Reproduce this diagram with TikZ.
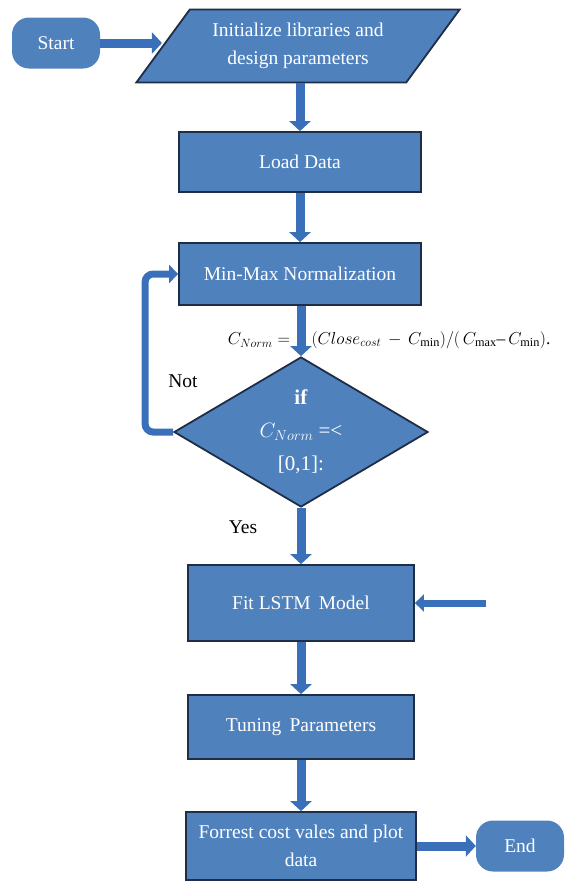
\documentclass[tikz,border=0pt]{standalone}
\usepackage{fontspec}
\setmainfont{Liberation Serif}
\usetikzlibrary{arrows.meta,positioning,calc,shapes.geometric}
\definecolor{BoxBlue}  {RGB}{79,129,189}
\definecolor{EdgeDark} {RGB}{31,45,70}
\definecolor{ArrowBlue}{RGB}{58,112,185}

\begin{document}
\begin{tikzpicture}[x=1pt,y=-1pt,
  txt/.style={font=\fontsize{19.5}{28}\selectfont},
  box/.style={txt,draw=EdgeDark,line width=1.8pt,fill=BoxBlue,text=white,
              align=center,inner sep=2pt},
  term/.style={txt,fill=BoxBlue,text=white,rounded corners=17pt,
               minimum width=88pt,minimum height=51pt},
  para/.style={box,trapezium,trapezium left angle=49,trapezium right angle=131,
               trapezium stretches=true,minimum width=324pt,minimum height=73pt},
  dec/.style={box,diamond,inner sep=0pt,shape aspect=1.7,
              minimum width=254pt,minimum height=150pt,
              font=\fontsize{21}{33}\selectfont},
  flow/.style={draw=ArrowBlue,line width=9pt,-{Triangle[length=10pt,width=21pt]}},
  flowthin/.style={draw=ArrowBlue,line width=7pt,-{Triangle[length=9pt,width=17pt]}},
  loopline/.style={draw=ArrowBlue,line width=7pt,rounded corners=8pt,
                   -{Triangle[length=9pt,width=18pt]}}]
  \useasboundingbox (0,0) rectangle (579,884);
  %% terminals and process boxes
  \node[term] (start) at (56,43) {Start};
  \node[para] (init) at (298,46) {Initialize libraries and\\design parameters};
  \node[box,minimum width=242pt,minimum height=60pt] (load) at (300,162) {Load Data};
  \node[box,minimum width=242pt,minimum height=62pt] (norm) at (300,274) {Min-Max Normalization};
  %% normalization formula
  \node[font=\fontsize{17.5}{20}\selectfont] (fleft) at (259,340) {$C_{Norm} =$};
  \node[font=\fontsize{17.5}{20}\selectfont,anchor=west] (fright) at (308,340)
       {$(Close_{cost}\,-\,C_{\min})/(\,C_{\max}$--$\,C_{\min})$.};
  %% decision
  \node[dec] (dec) at (301,432) {\textbf{if}\\$C_{Norm}$ =<\\{}[0,1]:};
  \node[txt] (notlbl) at (183,381) {Not};
  \node[txt] (yeslbl) at (243,527) {Yes};
  %% lower boxes
  \node[box,minimum width=226pt,minimum height=76pt] (fit) at (301,603) {Fit LSTM\, Model};
  \node[box,minimum width=226pt,minimum height=64pt] (tune) at (301,727) {Tuning\, Parameters};
  \node[box,minimum width=230pt,minimum height=68pt] (fore) at (301,846)
       {Forrest cost vales and plot\\data};
  \node[term] (end) at (520,846) {End};
  \coordinate (fitin) at (486,603);
  %% connectors
  \draw[flow] (start.east) -- (start.east -| init.west);
  \draw[flow] (init.south -| load.north) -- (load.north);
  \draw[flow] (load.south) -- (norm.north);
  \draw[flow] (norm.south -| dec.north) -- (dec.north);
  \draw[loopline] (dec.west) -- ++(-28,0) |- (norm.west);
  \draw[flow] (dec.south) -- (fit.north);
  \draw[flowthin] (fitin) -- (fit.east);
  \draw[flow] (fit.south) -- (tune.north);
  \draw[flow] (tune.south) -- (fore.north);
  \draw[flow] (fore.east) -- (end.west);
\end{tikzpicture}
\end{document}
